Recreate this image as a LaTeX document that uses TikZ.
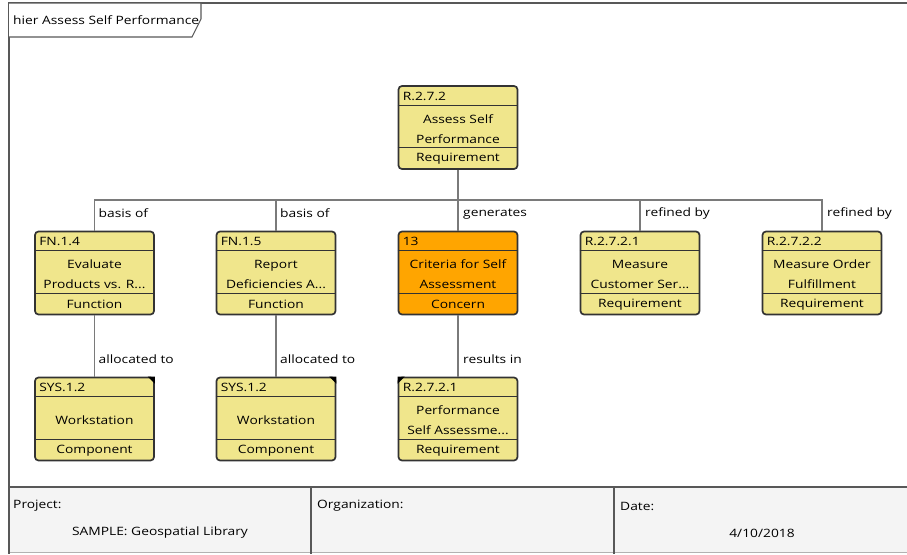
\documentclass[tikz,border=0pt]{standalone}
\usepackage{fontspec}
\setmainfont{Open Sans}[FakeStretch=1.2]
\usetikzlibrary{calc,positioning}
\definecolor{elemyellow}{HTML}{F0E68C}
\definecolor{elemorange}{HTML}{FFA500}
\definecolor{edgegray}{HTML}{7A7A7A}
\definecolor{framegray}{HTML}{585858}
\definecolor{footgray}{HTML}{F4F4F4}
\newcommand{\elemfont}{\fontsize{11.5pt}{20pt}\selectfont}
\tikzset{
  elembox/.style={draw=black!80,line width=1.7pt,rounded corners=3.5pt,
    minimum width=119pt,minimum height=83pt,inner sep=0pt},
  elemline/.style={draw=black!80,line width=1.2pt},
  conn/.style={draw=edgegray,line width=1.4pt},
  lbl/.style={anchor=west,inner sep=0pt},
}
% element box: name, x, y, id, body, type, fill
\newcommand{\elem}[7]{%
  \node[elembox,fill=#7] (#1) at (#2,#3) {};
  \draw[elemline] ($(#1.north west)+(0,20)$) -- ($(#1.north east)+(0,20)$);
  \draw[elemline] ($(#1.south west)+(0,-22)$) -- ($(#1.south east)+(0,-22)$);
  \node[anchor=west,inner sep=0pt] (#1-id) at ($(#1.north west)+(5,11)$) {#4};
  \node[align=center,inner sep=0pt] (#1-body) at ($(#1.center)+(0,1.5)$) {#5};
  \node[inner sep=0pt] (#1-type) at ($(#1.south)+(0,-11)$) {#6};
}

\begin{document}
\begin{tikzpicture}[x=1pt,y=-1pt,font=\elemfont]
\useasboundingbox (0,0) rectangle (907,554);
% frame and footer
\fill[footgray] (9,487) rectangle (907,552);
\draw[black!30] (9,552.5) -- (907,552.5);
\draw[framegray,line width=2pt] (907,3) -- (9,3) -- (9,554);
\draw[framegray,line width=2pt] (9,487) -- (907,487);
\draw[framegray,line width=2pt] (311,487) -- (311,554); \draw[framegray,line width=2pt] (614,487) -- (614,554);
\node[lbl] (proj) at (13,506) {Project:};
\node (projname) at (160,533) {SAMPLE: Geospatial Library};
\node[lbl] (org) at (317,506) {Organization:};
\node[lbl] (date) at (620,506) {Date:};
\node (dateval) at (762,533) {4/10/2018};
% tab
\draw[framegray,line width=1.1pt,fill=white] (9,3) -- (201,3) -- (201,19) -- (192,37) -- (9,37);
\node[lbl] (tab) at (13,20) {hier Assess Self Performance};

% elements
\elem{top}{458}{127.5}{R.2.7.2}{Assess Self\\Performance}{Requirement}{elemyellow}
\elem{fn14}{94.5}{273}{FN.1.4}{Evaluate\\Products vs. R...}{Function}{elemyellow}
\elem{fn15}{276}{273}{FN.1.5}{Report\\Deficiencies A...}{Function}{elemyellow}
\elem{con13}{458}{273}{13}{Criteria for Self\\Assessment}{Concern}{elemorange}
\elem{req1}{640}{273}{R.2.7.2.1}{Measure\\Customer Ser...}{Requirement}{elemyellow}
\elem{req2}{822}{273}{R.2.7.2.2}{Measure Order\\Fulfillment}{Requirement}{elemyellow}
\elem{sysa}{94.5}{419}{SYS.1.2}{Workstation}{Component}{elemyellow}
\elem{sysb}{276}{419}{SYS.1.2}{Workstation}{Component}{elemyellow}
\elem{perf}{458}{419}{R.2.7.2.1}{Performance\\Self Assessme...}{Requirement}{elemyellow}
\fill[black] (sysa.north east) -- ++(-7,0) -- ++(7,7) -- cycle;
\fill[black] (sysb.north east) -- ++(-7,0) -- ++(7,7) -- cycle;
\fill[black] (perf.north west) -- ++(7,0) -- ++(-7,7) -- cycle;

% connectors
\coordinate (bus) at (458,200);
\draw[conn] (top.south) -- (bus);
\foreach \n in {fn14,fn15,con13,req1,req2} \draw[conn] (bus) -| (\n.north);
\node[lbl] (l1) at ($(fn14.north)+(4,-17)$) {basis of};
\node[lbl] (l2) at ($(fn15.north)+(4,-17)$) {basis of};
\node[lbl] (l3) at ($(con13.north)+(5,-17)$) {generates};
\node[lbl] (l4) at ($(req1.north)+(5,-17)$) {refined by};
\node[lbl] (l5) at ($(req2.north)+(5,-17)$) {refined by};
\draw[conn] (fn14.south) -- (sysa.north); \node[lbl] (l6) at ($(sysa.north)+(4,-17)$) {allocated to};
\draw[conn] (fn15.south) -- (sysb.north); \node[lbl] (l7) at ($(sysb.north)+(4,-17)$) {allocated to};
\draw[conn] (con13.south) -- (perf.north); \node[lbl] (l8) at ($(perf.north)+(5,-17)$) {results in};
\end{tikzpicture}
\end{document}
